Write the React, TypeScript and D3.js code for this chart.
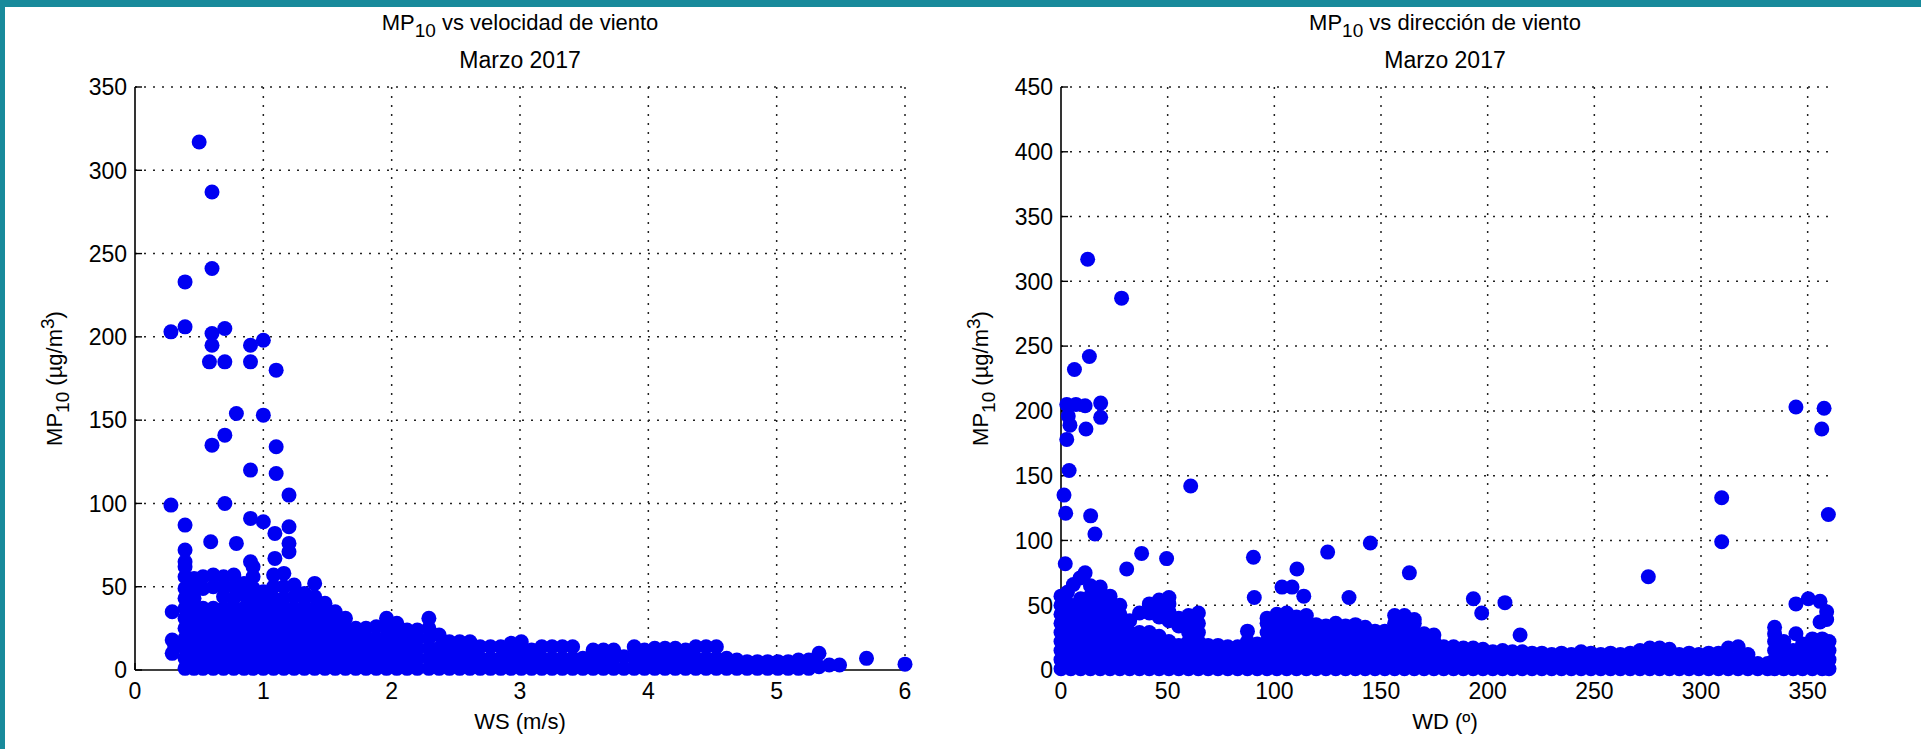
import React from 'react';
import * as d3 from 'd3';

const W = 1921;
const H = 749;
const TEAL = '#188a9b';
const BLUE = '#0000f2';
const FONT = "'Liberation Sans', Arial, Helvetica, sans-serif";

// ---------- Axis ticks ----------
const wsTicks = [0, 1, 2, 3, 4, 5, 6];
const pmTicksLeft = [0, 50, 100, 150, 200, 250, 300, 350];
const wdTicks = [0, 50, 100, 150, 200, 250, 300, 350];
const pmTicksRight = [0, 50, 100, 150, 200, 250, 300, 350, 400, 450];

// ---------- MP10 vs wind speed ----------
// isolated observations [WS (m/s), MP10]
const speedOutliers: [number, number][] = [
  [0.5, 317], [0.6, 287], [0.6, 241], [0.39, 233], [0.28, 203], [0.39, 206], [0.6, 202], [0.6, 195],
  [0.7, 205], [0.58, 185], [0.7, 185], [0.9, 195], [0.9, 185], [1.0, 198], [1.1, 180], [0.79, 154],
  [1.0, 153], [0.6, 135], [0.7, 141], [1.1, 134], [0.9, 120], [1.1, 118], [1.2, 105], [0.28, 99],
  [0.7, 100], [0.39, 87], [0.9, 91], [1.0, 89], [1.09, 82], [1.2, 86], [1.2, 76], [1.2, 71],
  [0.59, 77], [0.79, 76], [0.39, 72], [1.09, 67], [0.9, 65], [0.39, 65], [1.4, 52], [0.29, 35],
  [0.29, 10], [0.29, 18], [0.31, 14], [5.7, 7], [6.0, 3.5],
];
// dense cloud, one column per WS value: [WS, MP10, MP10, ...]
const speedBand: number[][] = [
  [0.39, 1, 7, 13, 19, 25, 31, 37, 43, 49, 56, 62],
  [0.46, 1, 7, 13, 19, 25, 31, 37, 43, 49, 55],
  [0.53, 1, 7, 13, 19, 25, 31, 37, 49, 56],
  [0.61, 1, 7, 13, 19, 25, 31, 37, 50, 57],
  [0.69, 1, 7, 13, 19, 25, 31, 37, 44, 50, 56],
  [0.77, 1, 7, 13, 19, 25, 31, 37, 43, 50, 57],
  [0.85, 1, 7, 13, 19, 25, 31, 37, 45, 52],
  [0.92, 1, 7, 13, 19, 25, 31, 37, 43, 49, 56, 62],
  [1.0, 1, 7, 13, 19, 25, 31, 37, 42, 47],
  [1.08, 1, 7, 13, 19, 25, 31, 37, 43, 50, 57],
  [1.16, 1, 7, 13, 19, 25, 31, 37, 43, 50, 58],
  [1.24, 1, 7, 13, 19, 25, 31, 37, 44, 51],
  [1.32, 1, 7, 13, 19, 25, 31, 37, 43, 46],
  [1.4, 1, 7, 13, 19, 25, 31, 37, 44],
  [1.48, 1, 7, 13, 19, 25, 31, 37, 40],
  [1.56, 1, 7, 13, 19, 25, 31, 35],
  [1.64, 1, 7, 13, 19, 25, 31],
  [1.72, 1, 7, 13, 19, 25],
  [1.8, 1, 7, 13, 19, 25],
  [1.88, 1, 7, 13, 19, 26],
  [1.96, 1, 7, 13, 19, 25, 31],
  [2.04, 1, 7, 13, 19, 24, 28],
  [2.12, 1, 7, 13, 19, 24],
  [2.2, 1, 7, 13, 19, 24],
  [2.29, 1, 7, 13, 19, 25, 31],
  [2.37, 1, 7, 13, 21],
  [2.45, 1, 7, 12, 17],
  [2.53, 1, 7, 12, 17],
  [2.61, 1, 6, 12, 17],
  [2.69, 1, 7, 14],
  [2.77, 1, 7, 14],
  [2.85, 1, 7, 14],
  [2.93, 1, 6, 11, 16],
  [3.01, 1, 6, 12, 17],
  [3.09, 1, 6, 12],
  [3.17, 1, 7, 14],
  [3.25, 1, 7, 14],
  [3.33, 1, 7, 14],
  [3.41, 1, 7, 14],
  [3.49, 1, 7],
  [3.57, 1, 7, 12],
  [3.65, 1, 7, 12],
  [3.73, 1, 7, 12],
  [3.81, 1, 8],
  [3.89, 1, 7, 14],
  [3.97, 1, 7, 12],
  [4.05, 1, 7, 13],
  [4.13, 1, 7, 13],
  [4.21, 1, 7, 13],
  [4.29, 1, 7, 12],
  [4.37, 1, 7, 14],
  [4.45, 1, 7, 14],
  [4.53, 1, 7, 14],
  [4.61, 1, 7],
  [4.69, 1, 6],
  [4.77, 1, 5],
  [4.85, 1, 5],
  [4.93, 1, 5],
  [5.01, 1, 5],
  [5.09, 1, 5],
  [5.17, 1, 6],
  [5.25, 1, 6],
  [5.33, 2, 10],
  [5.41, 3],
  [5.49, 3],
];

// ---------- MP10 vs wind direction ----------
const dirOutliers: [number, number][] = [
  [12.5, 317], [28.4, 287], [13.3, 242], [6.3, 232], [2.7, 205], [7, 205], [11.3, 204], [3.4, 196],
  [4.2, 189], [2.7, 178], [11.7, 186], [18.6, 206], [18.6, 195], [3.8, 154], [1.4, 135], [2.2, 121],
  [13.9, 119], [15.9, 105], [2, 82], [3, 60], [5.8, 66], [8.9, 71], [11.3, 75], [60.8, 142],
  [30.8, 78], [37.8, 90], [49.5, 86], [90.2, 87], [90.6, 56], [110.6, 78], [125, 91], [145, 98],
  [135, 56], [103.6, 64], [108.3, 64], [113.8, 57], [163.3, 75], [193.3, 55], [197.2, 44], [208.1, 52],
  [215.2, 27], [275.3, 72], [309.7, 133], [309.7, 99], [359.7, 120], [344.5, 28], [344.5, 51],
  [350.3, 55], [355.8, 53], [358.9, 45], [358.9, 39], [355.8, 37], [344.5, 203], [357.7, 202],
  [356.6, 186],
];
// dense cloud, one column per WD value: [WD, MP10, MP10, ...]
const dirBand: number[][] = [
  [0, 1, 8, 15, 22, 29, 36, 43, 50, 57],
  [4.6, 1, 8, 15, 22, 29, 36, 43, 50],
  [9.2, 1, 8, 15, 22, 29, 36, 43, 50, 55],
  [13.8, 1, 8, 15, 22, 29, 36, 43, 50, 57, 65],
  [18.4, 1, 8, 15, 22, 29, 36, 43, 50, 57, 64],
  [23, 1, 8, 15, 22, 29, 36, 43, 50, 57],
  [27.6, 1, 8, 15, 22, 29, 36, 43, 50],
  [32.2, 1, 8, 15, 22, 29, 38],
  [36.8, 1, 8, 15, 22, 29, 44],
  [41.4, 1, 8, 15, 22, 29, 44, 51],
  [46, 1, 8, 15, 22, 26, 41, 48, 54],
  [50.6, 1, 8, 15, 22, 38, 45, 51, 56],
  [55.2, 1, 8, 15, 19, 34, 40],
  [59.8, 1, 8, 15, 22, 29, 36, 42],
  [64.4, 1, 8, 15, 22, 29, 36, 44],
  [69, 1, 8, 15, 19],
  [73.6, 1, 8, 15, 19],
  [78.2, 1, 8, 15, 18],
  [82.8, 1, 8, 15, 18],
  [87.4, 1, 8, 15, 22, 30],
  [92, 1, 8, 15, 20],
  [96.6, 1, 8, 15, 22, 29, 36, 40],
  [101.2, 1, 8, 15, 22, 29, 36, 43],
  [105.8, 1, 8, 15, 22, 29, 36, 44],
  [110.4, 1, 8, 15, 22, 29, 36, 41],
  [115, 1, 8, 15, 22, 29, 36, 42],
  [119.6, 1, 8, 15, 22, 29, 35],
  [124.2, 1, 8, 15, 22, 29, 34],
  [128.8, 1, 8, 15, 22, 29, 36],
  [133.4, 1, 8, 15, 22, 29, 34],
  [138, 1, 8, 15, 22, 29, 35],
  [142.6, 1, 8, 15, 22, 29, 33],
  [147.2, 1, 8, 15, 22, 30],
  [151.8, 1, 8, 15, 22, 30],
  [156.4, 1, 8, 15, 22, 29, 36, 42],
  [161, 1, 8, 15, 22, 29, 36, 42],
  [165.6, 1, 8, 15, 22, 29, 36, 39],
  [170.2, 1, 8, 15, 22, 28],
  [174.8, 1, 8, 15, 22, 27],
  [179.4, 1, 8, 15, 18],
  [184, 1, 8, 15, 18],
  [188.6, 1, 8, 15, 17],
  [193.2, 1, 8, 15, 17],
  [197.8, 1, 8, 16],
  [202.4, 1, 8, 14],
  [207, 1, 8, 15],
  [211.6, 1, 8, 14],
  [216.2, 1, 8, 14],
  [220.8, 1, 8, 13],
  [225.4, 1, 8, 13],
  [230, 1, 7, 12],
  [234.6, 1, 7, 13],
  [239.2, 1, 7, 12],
  [243.8, 1, 8, 14],
  [248.4, 1, 7, 13],
  [253, 1, 7, 12],
  [257.6, 1, 7, 13],
  [262.2, 1, 7, 12],
  [266.8, 1, 7, 13],
  [271.4, 1, 8, 15],
  [276, 1, 9, 17],
  [280.6, 1, 9, 17],
  [285.2, 1, 8, 16],
  [289.8, 1, 7, 12],
  [294.4, 1, 7, 13],
  [299, 1, 7, 12],
  [303.6, 1, 7, 13],
  [308.2, 1, 7, 13],
  [312.8, 1, 9, 17],
  [317.4, 1, 9, 18],
  [322, 1, 7, 12],
  [326.6, 1, 5],
  [331.2, 1, 5],
  [334.5, 1, 8, 15, 22, 28, 33],
  [338.8, 1, 8, 15, 22],
  [343.2, 1, 8, 15],
  [347.6, 1, 8, 15, 20],
  [352.2, 1, 8, 15, 22, 24],
  [356.8, 1, 8, 15, 22, 24],
  [360, 1, 8, 15, 22],
];

const AX_TOP = 87;
const AX_BOTTOM = 670;
const FS = 22;
const TICK_FS = 23;

type PanelProps = {
  x0: number;
  x1: number;
  xMax: number;
  yMax: number;
  xTicks: number[];
  yTicks: number[];
  band: number[][];
  outliers: [number, number][];
  titleRest: string;
  xlabel: string;
};

function Panel({ x0, x1, xMax, yMax, xTicks, yTicks, band, outliers, titleRest, xlabel }: PanelProps) {
  const x = d3.scaleLinear().domain([0, xMax]).range([x0, x1]);
  const y = d3.scaleLinear().domain([0, yMax]).range([AX_BOTTOM, AX_TOP]);
  const pts: [number, number][] = [];
  band.forEach(([xv, ...ys]) => ys.forEach((yv) => pts.push([xv, yv])));
  outliers.forEach((p) => pts.push(p));
  const cx = (x0 + x1) / 2;
  const cy = (AX_TOP + AX_BOTTOM) / 2;
  const yl = x0 - 73;
  return (
    <g fontFamily={FONT} fontSize={FS} fill="#000">
      {/* grid */}
      {xTicks.filter((t) => t > 0).map((t) => (
        <line key={'gx' + t} x1={x(t)} x2={x(t)} y1={AX_TOP} y2={AX_BOTTOM}
          stroke="#222" strokeWidth={1.5} strokeDasharray="2 7" />
      ))}
      {yTicks.filter((t) => t > 0).map((t) => (
        <line key={'gy' + t} x1={x0} x2={x1} y1={y(t)} y2={y(t)}
          stroke="#222" strokeWidth={1.5} strokeDasharray="2 7" />
      ))}
      {/* axes */}
      <line x1={x0} x2={x1} y1={AX_BOTTOM} y2={AX_BOTTOM} stroke="#000" strokeWidth={1.6} />
      <line x1={x0} x2={x0} y1={AX_TOP} y2={AX_BOTTOM} stroke="#000" strokeWidth={1.6} />
      {xTicks.map((t) => (
        <line key={'tx' + t} x1={x(t)} x2={x(t)} y1={AX_BOTTOM} y2={AX_BOTTOM - 7} stroke="#000" strokeWidth={1.4} />
      ))}
      {yTicks.map((t) => (
        <line key={'ty' + t} x1={x0} x2={x0 + 7} y1={y(t)} y2={y(t)} stroke="#000" strokeWidth={1.4} />
      ))}
      {/* points */}
      <g fill={BLUE}>
        {pts.map(([a, b], i) => (
          <circle key={i} cx={x(a)} cy={y(b)} r={7.5} />
        ))}
      </g>
      {/* tick labels */}
      {xTicks.map((t) => (
        <text key={'lx' + t} x={x(t)} y={699} textAnchor="middle" fontSize={TICK_FS}>{t}</text>
      ))}
      {yTicks.map((t) => (
        <text key={'ly' + t} x={x0 - 8} y={y(t)} dy="0.36em" textAnchor="end" fontSize={TICK_FS}>{t}</text>
      ))}
      {/* titles */}
      <text x={cx} y={30} textAnchor="middle">
        MP<tspan dy={7} fontSize={19}>10</tspan><tspan dy={-7}>{' ' + titleRest}</tspan>
      </text>
      <text x={cx} y={68} textAnchor="middle" fontSize={23}>Marzo 2017</text>
      <text x={cx} y={729} textAnchor="middle">{xlabel}</text>
      <text transform={`translate(${yl},${cy}) rotate(-90)`} textAnchor="middle">
        MP<tspan dy={7} fontSize={19}>10</tspan><tspan dy={-7}>{' (µg/m'}</tspan>
        <tspan dy={-8} fontSize={19}>3</tspan><tspan dy={8}>)</tspan>
      </text>
    </g>
  );
}

export default function App() {
  return (
    <svg width={W} height={H} viewBox={`0 0 ${W} ${H}`}
      style={{ position: 'absolute', left: 0, top: 0, background: '#fff' }}>
      <rect x={0} y={0} width={W} height={H} fill="#fff" />
      <rect x={0} y={0} width={W} height={7} fill={TEAL} />
      <rect x={0} y={0} width={5} height={H} fill={TEAL} />
      <Panel x0={135} x1={905} xMax={6} yMax={350} xTicks={wsTicks} yTicks={pmTicksLeft}
        band={speedBand} outliers={speedOutliers} titleRest="vs velocidad de viento" xlabel="WS (m/s)" />
      <Panel x0={1061} x1={1829} xMax={360} yMax={450} xTicks={wdTicks} yTicks={pmTicksRight}
        band={dirBand} outliers={dirOutliers} titleRest="vs dirección de viento" xlabel="WD (º)" />
    </svg>
  );
}
